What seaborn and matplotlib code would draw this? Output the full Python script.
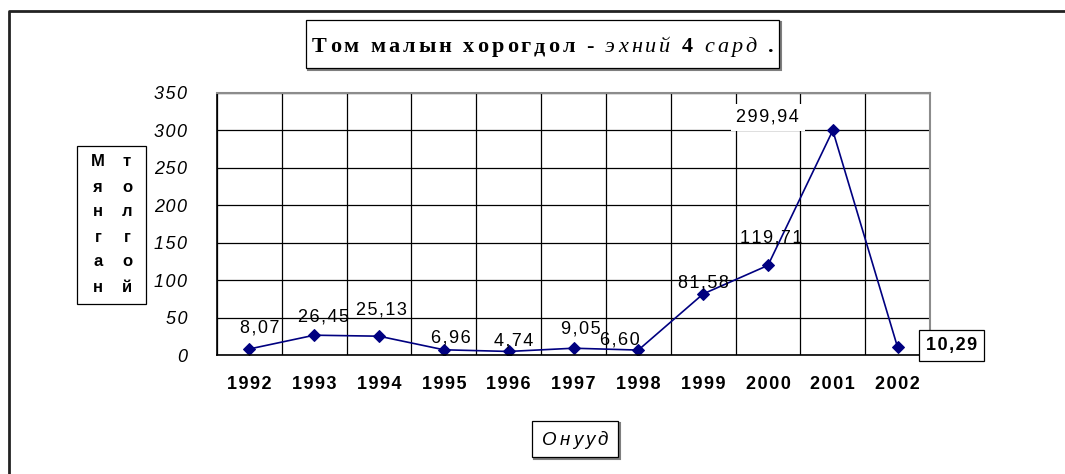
import matplotlib
matplotlib.use("Agg")
import pandas as pd
import matplotlib.pyplot as plt
import seaborn as sns
from matplotlib.patches import Rectangle
from matplotlib.lines import Line2D
from matplotlib.ticker import MultipleLocator, FixedLocator, FuncFormatter

# Өгөгдөл
years = ["1992", "1993", "1994", "1995", "1996", "1997", "1998", "1999", "2000", "2001", "2002"]
values = [8.07, 26.45, 25.13, 6.96, 4.74, 9.05, 6.60, 81.58, 119.71, 299.94, 10.29]
value_labels = ["8,07", "26,45", "25,13", "6,96", "4,74", "9,05", "6,60", "81,58", "119,71", "299,94", "10,29"]

title_parts = [("Том малын хорогдол - ", "bold"), ("эхний ", "italic"), ("4 ", "bold"),
               ("сард ", "italic"), (".", "bold")]
ylabel_left = "Мянган"
ylabel_right = "толгой"
xlabel = "Онууд"

# label offsets (pixels) from each point
label_offsets = [(10, 21), (9, 18), (2, 26), (7, 12), (5, 10), (7, 19), (-18, 10),
                 (0, 11), (3, 27), (-65, 13), (54, 2)]

W, H = 1065, 474
NAVY = "#000080"

sns.set_style("white")
plt.rcParams["font.family"] = ["Liberation Sans", "DejaVu Sans"]
plt.rcParams["text.color"] = "black"
plt.rcParams["xtick.color"] = "black"
plt.rcParams["ytick.color"] = "black"


def spread(s):
    # Excel-like letter spacing
    return "\u200a".join(s)


fig = plt.figure(figsize=(W / 100, H / 100), dpi=100)


def fx(x):
    return x / W


def fy(y):
    return 1 - y / H


# plot area in pixel coords of the picture
left, right, top, bottom = 217, 930, 93, 355
ax = fig.add_axes([fx(left), fy(bottom), (right - left) / W, (bottom - top) / H])

df = pd.DataFrame({"year": years, "value": values})
sns.lineplot(data=df, x="year", y="value", ax=ax, color=NAVY, lw=1.2,
             marker="D", markersize=6.6, markeredgecolor=NAVY, markerfacecolor=NAVY)

ax.set_xlim(-0.5, len(years) - 0.5)
ax.set_ylim(0, 350)
ax.yaxis.set_major_locator(MultipleLocator(50))
ax.yaxis.set_major_formatter(FuncFormatter(lambda v, p: spread(f"{v:.0f}")))
ax.xaxis.set_minor_locator(FixedLocator([i + 0.5 for i in range(-1, len(years))]))
ax.grid(True, axis="y", which="major", color="black", lw=0.9)
ax.grid(True, axis="x", which="minor", color="black", lw=0.9)
ax.grid(False, axis="x", which="major")
ax.set_axisbelow(True)

ax.tick_params(axis="x", which="major", length=0, pad=15)
ax.tick_params(axis="x", which="minor", length=5, width=0.9, color="black", direction="out")
ax.tick_params(axis="y", which="major", length=5, width=0.9, color="black", direction="out", pad=16.5)
ax.set_xticks(range(len(years)))
ax.set_xticklabels([spread(y) for y in years], fontsize=13, fontweight="bold")
for lab in ax.get_yticklabels():
    lab.set_fontsize(13)
    lab.set_fontstyle("italic")
ax.set_xlabel("")
ax.set_ylabel("")

for side in ["left", "bottom"]:
    ax.spines[side].set_color("black")
    ax.spines[side].set_linewidth(1.2)
for side in ["top", "right"]:
    ax.spines[side].set_color("#8c8c8c")
    ax.spines[side].set_linewidth(1.5)

# data labels
for i, (v, lab) in enumerate(zip(values, value_labels)):
    dx, dy = label_offsets[i]
    kw = dict(ha="center", va="center", fontsize=13, textcoords="offset pixels",
              annotation_clip=False, zorder=5)
    if lab == "299,94":
        kw["bbox"] = dict(boxstyle="square,pad=0.3", fc="white", ec="none")
    if lab == "10,29":
        kw["fontweight"] = "bold"
        kw["bbox"] = dict(boxstyle="square,pad=0.4", fc="white", ec="black", lw=0.9)
    ax.annotate(spread(lab), xy=(i, v), xytext=(dx, dy), **kw)


def box(x0, y0, x1, y1, shadow=True):
    if shadow:
        fig.add_artist(Rectangle((fx(x0) + 1.5 / W, fy(y1) - 1.5 / H), (x1 - x0) / W, (y1 - y0) / H,
                                 transform=fig.transFigure, fc="none", ec="#7f7f7f", lw=1.5))
    fig.add_artist(Rectangle((fx(x0), fy(y1)), (x1 - x0) / W, (y1 - y0) / H,
                             transform=fig.transFigure, fc="white", ec="black", lw=0.9))


def spaced_text(parts, cx, baseline, width, size, family):
    # draw characters one by one so the letter spacing can be matched
    renderer = fig.canvas.get_renderer()
    texts = []
    for s, style in parts:
        for ch in s:
            t = fig.text(0, fy(baseline), ch, fontsize=size, family=family, va="baseline",
                         fontweight="bold" if style == "bold" else "normal",
                         fontstyle="italic" if style == "italic" else "normal")
            texts.append(t)
    widths = [t.get_window_extent(renderer).width if t.get_text() != " " else size * 0.25 * 100 / 72
              for t in texts]
    gap = (width - sum(widths)) / max(len(texts) - 1, 1)
    x = cx - width / 2
    for t, w in zip(texts, widths):
        t.set_x(fx(x))
        x += w + gap


# outer frame (only left and top visible)
fig.add_artist(Line2D([fx(9), fx(9), fx(1070)], [fy(480), fy(11), fy(11)],
                      transform=fig.transFigure, color="#222222", lw=2))

# title
box(306, 20, 779, 68)
spaced_text(title_parts, 543, 52, 462, 16, ["Liberation Serif", "DejaVu Serif"])

# y label
box(77, 146, 146, 304, shadow=False)
for k, (a, b) in enumerate(zip(ylabel_left, ylabel_right)):
    yy = fy(162 + k * 25)
    fig.text(fx(98), yy, a, fontsize=12, fontweight="bold", ha="center", va="center")
    fig.text(fx(127), yy, b, fontsize=12, fontweight="bold", ha="center", va="center")

# x label
box(532, 421, 618, 457)
spaced_text([(xlabel, "italic")], 575, 445, 66, 13.5, ["Liberation Sans", "DejaVu Sans"])

fig.savefig("out.png", dpi=100)
